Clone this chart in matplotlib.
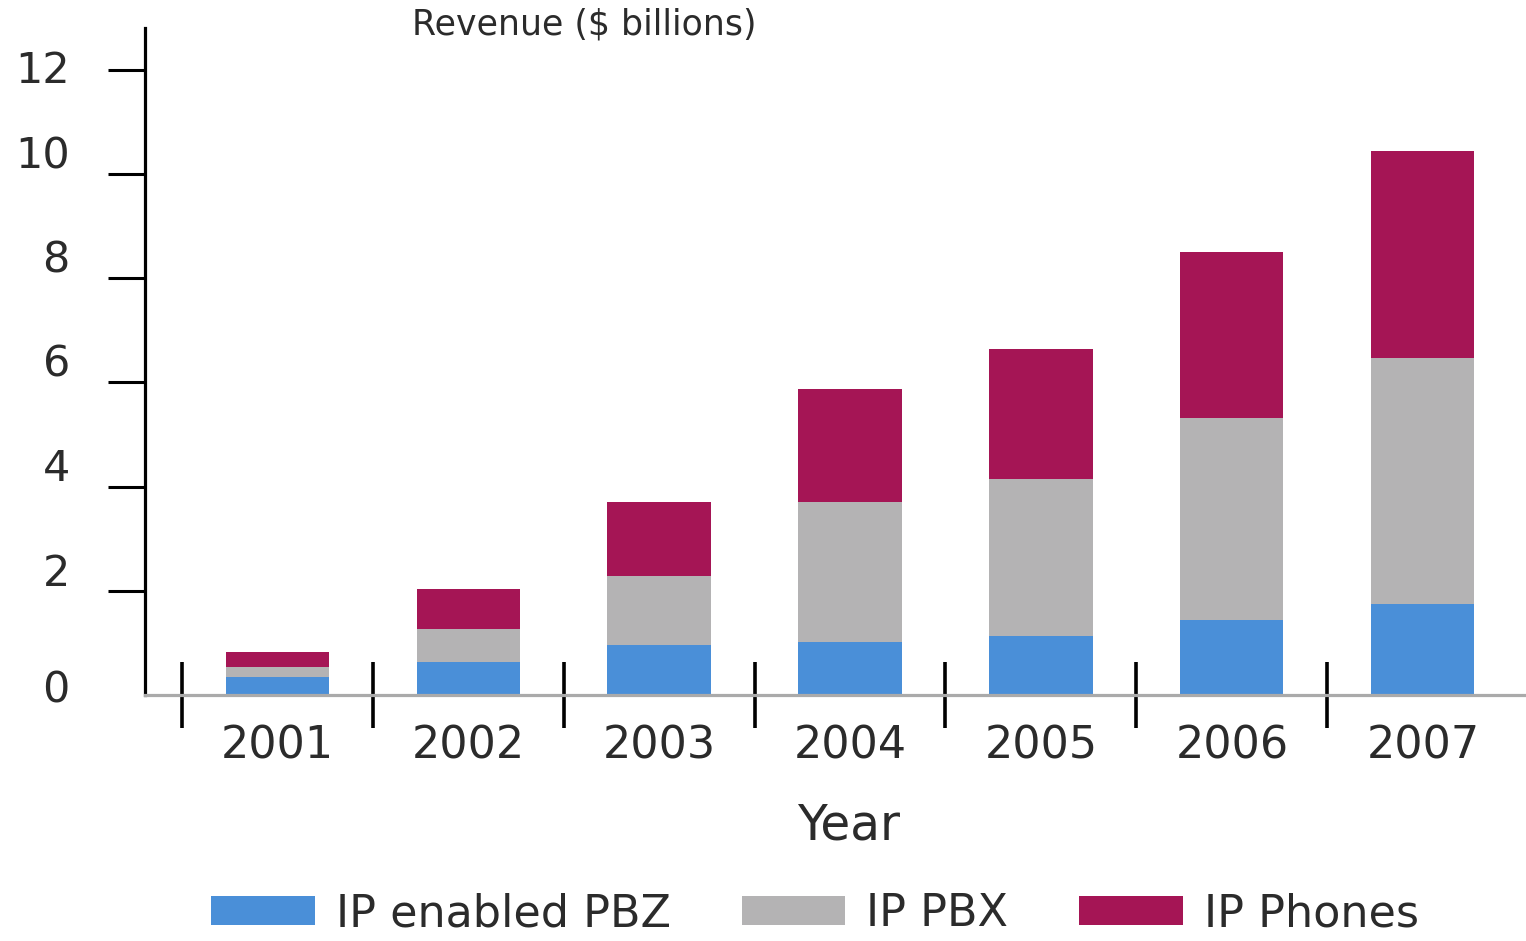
import matplotlib
matplotlib.use("Agg")
import matplotlib.pyplot as plt
import matplotlib.transforms as mtransforms
from matplotlib.patches import Patch
import numpy as np

# Revenue by segment, $ billions
years = ["2001", "2002", "2003", "2004", "2005", "2006", "2007"]
ip_enabled_pbz = [0.35, 0.63, 0.96, 1.02, 1.13, 1.44, 1.75]
ip_pbx = [0.19, 0.64, 1.32, 2.68, 3.02, 3.88, 4.72]
ip_phones = [0.29, 0.76, 1.42, 2.17, 2.49, 3.18, 3.97]

series_names = ["IP enabled PBZ", "IP PBX", "IP Phones"]
colors = ["#4a8fd8", "#b4b3b4", "#a51555"]
text_color = "#2b2b2b"

plt.rcParams["font.family"] = "DejaVu Sans"

fig = plt.figure(figsize=(15.26, 9.41), dpi=100)
ax = fig.add_axes([0.095, 0.2614, 0.905, 0.7088])

x = np.arange(len(years))
width = 0.54
bottom = np.zeros(len(years))
for vals, col in zip([ip_enabled_pbz, ip_pbx, ip_phones], colors):
    ax.bar(x, vals, width, bottom=bottom, color=col, linewidth=0, zorder=2)
    bottom += np.array(vals)

ax.set_xlim(-0.692, 6.54)
ax.set_ylim(0, 12.8)

# spines
for s in ["top", "right"]:
    ax.spines[s].set_visible(False)
ax.spines["left"].set_color("black")
ax.spines["left"].set_linewidth(2.3)
ax.spines["bottom"].set_color("#aaaaaa")
ax.spines["bottom"].set_linewidth(2.3)
ax.spines["bottom"].set_zorder(3)

# y ticks
yt = [0, 2, 4, 6, 8, 10, 12]
ax.set_yticks(yt)
ax.set_yticklabels([str(v) for v in yt])
ax.tick_params(axis="y", direction="out", length=27, width=2.2, color="black",
               pad=27, labelsize=31, labelcolor=text_color)
ax.yaxis.get_major_ticks()[0].tick1line.set_visible(False)
ups = [9, 21, 22, 22, 22, 22, 3]
for lab, dy in zip(ax.get_yticklabels(), ups):
    lab.set_transform(lab.get_transform() +
                      mtransforms.ScaledTranslation(0, dy / 100, fig.dpi_scale_trans))

# x ticks: separators between years, labels at bar centres
ax.set_xticks(x - 0.5)
ax.set_xticklabels([])
ax.tick_params(axis="x", which="major", direction="inout", length=48, width=2.6,
               color="black")
ax.set_xticks(x, minor=True)
ax.set_xticklabels(years, minor=True)
ax.tick_params(axis="x", which="minor", length=0, pad=21, labelsize=32,
               labelcolor=text_color)

fig.text(0.383, 0.974, "Revenue ($ billions)", ha="center", va="center",
         fontsize=25, color=text_color)
fig.text(0.556, 0.123, "Year", ha="center", va="center",
         fontsize=35, color=text_color)

handles = [Patch(facecolor=c, edgecolor="none") for c in colors]
fig.legend(handles, series_names, loc="center", bbox_to_anchor=(0.534, 0.029),
           ncol=3, frameon=False, fontsize=32, handlelength=2.33,
           handleheight=0.62, handletextpad=0.47, columnspacing=1.6,
           labelcolor=text_color, borderpad=0, borderaxespad=0)

fig.savefig("out.png", dpi=100)
